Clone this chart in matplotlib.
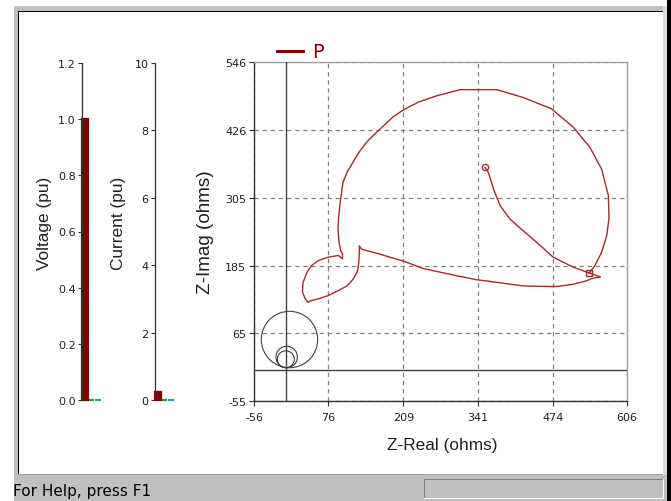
import matplotlib
matplotlib.use('Agg')
import matplotlib.pyplot as plt
from matplotlib.patches import Rectangle, Circle
from matplotlib.lines import Line2D

# ---------------- data ----------------
bar_names = ['A', 'B', 'C']
voltage_vals = [1.0, 0.0, 0.0]
current_vals = [0.25, 0.0, 0.0]
voltage_ticks = [0.0, 0.2, 0.4, 0.6, 0.8, 1.0, 1.2]
voltage_ticklabels = ['0.0', '0.2', '0.4', '0.6', '0.8', '1.0', '1.2']
current_ticks = [0, 2, 4, 6, 8, 10]
current_ticklabels = ['0', '2', '4', '6', '8', '10']

zreal_ticks = [-56, 76, 209, 341, 474, 606]
zreal_ticklabels = ['-56', '76', '209', '341', '474', '606']
zimag_ticks = [-55, 65, 185, 305, 426, 546]
zimag_ticklabels = ['-55', '65', '185', '305', '426', '546']

z_real = [354, 360, 369, 381, 398, 418, 446, 475, 511, 539,
          559, 543, 534, 511, 481, 469, 422, 363, 339, 304,
          244, 209, 185, 162, 135, 131, 131, 130, 128, 120,
          109, 94, 76, 58, 45, 40, 35, 30, 31, 38,
          46, 58, 76, 94, 101, 101, 98, 95, 93, 94,
          97, 102, 110, 120, 131, 144, 158, 173, 190, 209,
          236, 268, 310, 375, 422, 472, 511, 540, 561, 573,
          574, 570, 561, 549, 539]
z_imag = [359, 350, 321, 291, 268, 250, 226, 200, 182, 172,
          165, 162, 158, 152, 148, 148, 149, 157, 160, 167,
          180, 193, 200, 207, 214, 220, 209, 191, 176, 161,
          149, 141, 132, 126, 123, 120, 126, 138, 155, 173,
          185, 194, 200, 203, 197, 206, 211, 226, 250, 268,
          297, 333, 352, 369, 387, 404, 418, 432, 448, 461,
          475, 486, 497, 497, 483, 463, 430, 395, 356, 309,
          268, 238, 209, 185, 172]

circle_x = [7, 2, 0.5]
circle_y = [54, 23, 19]
circle_r = [50, 19, 15]

series_name = 'P'

# ---------------- layout helpers ----------------
W, H = 671, 502


def frac_rect(l, t, r, b):
    return [l / W, 1 - b / H, (r - l) / W, (b - t) / H]


fig = plt.figure(figsize=(W / 100, H / 100), dpi=100)
fig.patch.set_facecolor('white')


def box(l, t, r, b, color, z=-10):
    x, y, w, h = frac_rect(l, t, r, b)
    fig.add_artist(Rectangle((x, y), w, h, transform=fig.transFigure,
                             facecolor=color, edgecolor='none', zorder=z))


# window frame
box(14, 7, 671, 502, '#c0c0c0')
box(19, 13, 663, 475, 'white', -9)
box(18, 12, 663, 13, '#000000', -8)
box(18, 12, 19, 475, '#000000', -8)
box(663, 7, 667, 476, '#dcdcdc', -8)
box(667, 0, 671, 502, '#000000', -8)
box(18, 475, 663, 476, '#a0a0a0', -8)
# status bar panel
box(424, 480, 664, 500, '#c0c0c0', -7)
box(424, 480, 664, 481, '#808080', -6)
box(424, 480, 425, 500, '#808080', -6)
box(424, 499, 664, 500, '#ffffff', -6)
box(663, 480, 664, 500, '#ffffff', -6)
fig.text(13 / W, 1 - 492 / H, 'For Help, press F1', fontsize=11,
         va='center', ha='left', color='#000000')

bar_colors = ['#800000', '#20a020', '#20a0b0']
spine_col = '#303030'
text_col = '#202020'


def bar_axes(rect, vals, ticks, ticklabels, top):
    ax = fig.add_axes(frac_rect(*rect))
    ax.set_facecolor('none')
    ax.bar(range(len(vals)), vals, width=0.85, align='edge',
           color=bar_colors, edgecolor=bar_colors, linewidth=1.6, clip_on=False)
    ax.set_xlim(0, (rect[2] - rect[0]) / 6.5)
    ax.set_ylim(0, top)
    ax.set_yticks(ticks)
    ax.set_yticklabels(ticklabels)
    ax.set_xticks([])
    for s in ['top', 'right', 'bottom']:
        ax.spines[s].set_visible(False)
    ax.spines['left'].set_color(spine_col)
    ax.spines['left'].set_linewidth(0.9)
    ax.tick_params(axis='y', length=3, width=0.8, color=spine_col,
                   labelsize=8, pad=1.5, labelcolor=text_col)
    return ax


axV = bar_axes((82, 64, 106, 401), voltage_vals, voltage_ticks, voltage_ticklabels, 1.2)
axI = bar_axes((155, 64, 179, 401), current_vals, current_ticks, current_ticklabels, 10)

# impedance plot
axZ = fig.add_axes(frac_rect(254, 63, 627, 402))
axZ.set_facecolor('none')
curve_col = '#a02c2c'
axZ.plot(z_real, z_imag, color=curve_col, lw=1.0, zorder=4)
axZ.plot(z_real[0], z_imag[0], 'o', ms=4.5, mfc='none', mec=curve_col, mew=1.0, zorder=5)
axZ.plot(z_real[-1], z_imag[-1], 's', ms=5, mfc='none', mec=curve_col, mew=1.0, zorder=5)
for cx, cy, r in zip(circle_x, circle_y, circle_r):
    axZ.add_patch(Circle((cx, cy), r, fill=False, edgecolor='#404040', lw=0.8, zorder=3))
axZ.axvline(0, color='#404040', lw=1.0, zorder=3)
axZ.axhline(0, color='#404040', lw=1.0, zorder=3)
axZ.set_xlim(zreal_ticks[0], zreal_ticks[-1])
axZ.set_ylim(zimag_ticks[0], zimag_ticks[-1])
axZ.set_xticks(zreal_ticks)
axZ.set_xticklabels(zreal_ticklabels)
axZ.set_yticks(zimag_ticks)
axZ.set_yticklabels(zimag_ticklabels)
axZ.grid(True, color='#808080', linestyle=(0, (3.5, 3)), lw=0.9)
axZ.set_axisbelow(True)
for s in ['left', 'bottom']:
    axZ.spines[s].set_color(spine_col)
    axZ.spines[s].set_linewidth(1.0)
for s in ['top', 'right']:
    axZ.spines[s].set_color('#a0a0a0')
    axZ.spines[s].set_linewidth(1.0)
axZ.tick_params(length=3.5, width=0.8, color=spine_col, labelsize=8,
                labelcolor=text_col, pad=2)
axZ.tick_params(axis='x', pad=4.5)

leg_handle = Line2D([], [], color='#8b0000', lw=2.2)
leg = axZ.legend(handles=[leg_handle], labels=[series_name], frameon=False,
                 loc='center left', bbox_to_anchor=(277 / W, 1 - 53 / H),
                 bbox_transform=fig.transFigure, fontsize=14,
                 handlelength=1.35, handletextpad=0.45, borderpad=0,
                 borderaxespad=0)
for t in leg.get_texts():
    t.set_color('#8b0000')

# axis labels
lab_kw = dict(family=['Liberation Sans', 'DejaVu Sans'],
              color='#202020', ha='center', va='center')
fig.text(44 / W, 1 - 223 / H, 'Voltage (pu)', rotation=90, fontsize=12.4, **lab_kw)
fig.text(118 / W, 1 - 223 / H, 'Current (pu)', rotation=90, fontsize=12.4, **lab_kw)
fig.text(205 / W, 1 - 232 / H, 'Z-Imag (ohms)', rotation=90, fontsize=13.6, **lab_kw)
fig.text(442 / W, 1 - 446 / H, 'Z-Real (ohms)', fontsize=12.4, **lab_kw)

fig.savefig('out.png', dpi=100)
